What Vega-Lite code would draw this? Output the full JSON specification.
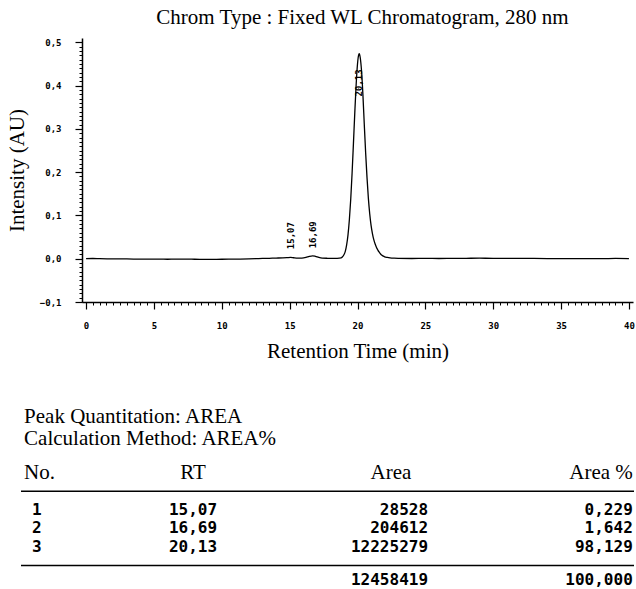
{
  "$schema": "https://vega.github.io/schema/vega-lite/v6.json",
  "background": "white",
  "padding": {"left": 6, "top": 7, "right": 2, "bottom": 0},
  "spacing": 45,
  "config": {"view": {"stroke": null}, "font": "Liberation Serif"},
  "vconcat": [
    {
      "width": 551,
      "height": 264,
      "title": {"text": "Chrom Type : Fixed WL Chromatogram, 280 nm", "font": "Liberation Serif", "fontSize": 21, "fontWeight": "normal", "color": "black", "anchor": "middle", "offset": 10, "dx": 5},
      "layer": [
        {
          "data": {"values": [
            {"t": 0, "v": 0.0}, {"t": 0.5, "v": 0.0005}, {"t": 1, "v": 0.0}, {"t": 2, "v": -0.0005}, {"t": 3, "v": -0.0005},
            {"t": 4, "v": -0.001}, {"t": 5, "v": -0.001}, {"t": 6, "v": -0.0012}, {"t": 7, "v": -0.001}, {"t": 8, "v": -0.0012},
            {"t": 9, "v": -0.0015}, {"t": 10, "v": -0.0012}, {"t": 11, "v": -0.001}, {"t": 12, "v": -0.0005}, {"t": 12.5, "v": 0.0},
            {"t": 13, "v": 0.0008}, {"t": 13.5, "v": 0.001}, {"t": 14, "v": 0.0015}, {"t": 14.5, "v": 0.002}, {"t": 14.8, "v": 0.0025},
            {"t": 15.07, "v": 0.003}, {"t": 15.3, "v": 0.0022}, {"t": 15.6, "v": 0.0015}, {"t": 15.9, "v": 0.0015}, {"t": 16.2, "v": 0.003},
            {"t": 16.45, "v": 0.0055}, {"t": 16.69, "v": 0.0068}, {"t": 16.9, "v": 0.0055}, {"t": 17.15, "v": 0.003}, {"t": 17.4, "v": 0.0015},
            {"t": 17.8, "v": 0.001}, {"t": 18.2, "v": 0.0008}, {"t": 18.5, "v": 0.001}, {"t": 18.8, "v": 0.0022}, {"t": 18.9, "v": 0.0045},
            {"t": 19.0, "v": 0.009}, {"t": 19.1, "v": 0.017}, {"t": 19.2, "v": 0.032}, {"t": 19.3, "v": 0.055}, {"t": 19.4, "v": 0.09},
            {"t": 19.5, "v": 0.137}, {"t": 19.6, "v": 0.197}, {"t": 19.7, "v": 0.266}, {"t": 19.8, "v": 0.337}, {"t": 19.9, "v": 0.402},
            {"t": 20.0, "v": 0.45}, {"t": 20.05, "v": 0.465}, {"t": 20.13, "v": 0.474}, {"t": 20.2, "v": 0.465}, {"t": 20.3, "v": 0.433},
            {"t": 20.4, "v": 0.378}, {"t": 20.5, "v": 0.31}, {"t": 20.6, "v": 0.245}, {"t": 20.7, "v": 0.188}, {"t": 20.8, "v": 0.14},
            {"t": 20.9, "v": 0.104}, {"t": 21.0, "v": 0.077}, {"t": 21.1, "v": 0.058}, {"t": 21.2, "v": 0.044}, {"t": 21.3, "v": 0.034},
            {"t": 21.4, "v": 0.026}, {"t": 21.5, "v": 0.02}, {"t": 21.6, "v": 0.015}, {"t": 21.7, "v": 0.011}, {"t": 21.8, "v": 0.008},
            {"t": 21.9, "v": 0.006}, {"t": 22.0, "v": 0.0045}, {"t": 22.2, "v": 0.003}, {"t": 22.4, "v": 0.002}, {"t": 22.7, "v": 0.0012},
            {"t": 23, "v": 0.0008}, {"t": 24, "v": 0.0005}, {"t": 25, "v": 0.0008}, {"t": 26, "v": 0.0005}, {"t": 27, "v": 0.0008},
            {"t": 28, "v": 0.001}, {"t": 29, "v": 0.0012}, {"t": 30, "v": 0.001}, {"t": 31, "v": 0.0008}, {"t": 32, "v": 0.001},
            {"t": 33, "v": 0.0006}, {"t": 34, "v": 0.0004}, {"t": 35, "v": 0.0002}, {"t": 36, "v": 0.0}, {"t": 37, "v": 0.0003},
            {"t": 38, "v": 0.0}, {"t": 39, "v": 0.0006}, {"t": 40, "v": 0.0003}
          ]},
          "mark": {"type": "line", "color": "black", "strokeWidth": 1.3, "interpolate": "monotone"},
          "encoding": {
            "x": {"field": "t", "type": "quantitative",
              "scale": {"domain": [-0.3, 40.3], "nice": false, "zero": false},
              "axis": {"values": [0, 5, 10, 15, 20, 25, 30, 35, 40], "format": "d", "title": "Retention Time (min)",
                "titleFont": "Liberation Serif", "titleFontSize": 21, "titleFontWeight": "normal", "titleColor": "black", "titlePadding": 10,
                "labelFont": "DejaVu Sans Mono", "labelFontWeight": "bold", "labelFontSize": 9, "labelColor": "black", "labelPadding": 12,
                "tickSize": 7, "tickColor": "black", "tickWidth": 1.2, "domainColor": "black", "domainWidth": 1.5, "grid": false, "labelFlush": false, "orient": "bottom"}},
            "y": {"field": "v", "type": "quantitative",
              "scale": {"domain": [-0.1, 0.51], "nice": false, "zero": false},
              "axis": {"values": [-0.1, 0, 0.1, 0.2, 0.3, 0.4, 0.5], "labelExpr": "replace(format(datum.value, '.1f'), '.', ',')", "title": "Intensity (AU)",
                "titleFont": "Liberation Serif", "titleFontSize": 21, "titleFontWeight": "normal", "titleColor": "black", "titlePadding": 12,
                "labelFont": "DejaVu Sans Mono", "labelFontWeight": "bold", "labelFontSize": 9, "labelColor": "black", "labelPadding": 14,
                "tickSize": 7, "tickColor": "black", "tickWidth": 1.2, "domainColor": "black", "domainWidth": 1.5, "grid": false, "labelFlush": false, "orient": "left"}}
          }
        },
        {
          "data": {"values": [
            {"t": 15.07, "v": 0.022, "label": "15,07"},
            {"t": 16.69, "v": 0.024, "label": "16,69"},
            {"t": 20.13, "v": 0.375, "label": "20,13"}
          ]},
          "mark": {"type": "text", "angle": 270, "align": "left", "baseline": "middle", "font": "DejaVu Sans Mono", "fontWeight": "bold", "fontSize": 9, "color": "black"},
          "encoding": {
            "x": {"field": "t", "type": "quantitative",
              "axis": {"values": [0,0.5,1,1.5,2,2.5,3,3.5,4,4.5,5,5.5,6,6.5,7,7.5,8,8.5,9,9.5,10,10.5,11,11.5,12,12.5,13,13.5,14,14.5,15,15.5,16,16.5,17,17.5,18,18.5,19,19.5,20,20.5,21,21.5,22,22.5,23,23.5,24,24.5,25,25.5,26,26.5,27,27.5,28,28.5,29,29.5,30,30.5,31,31.5,32,32.5,33,33.5,34,34.5,35,35.5,36,36.5,37,37.5,38,38.5,39,39.5,40],
                "labels": false, "domain": false, "title": null, "tickSize": 3, "tickColor": "black", "grid": false, "orient": "bottom"}},
            "y": {"field": "v", "type": "quantitative",
              "axis": {"values": [-0.1,-0.09,-0.08,-0.07,-0.06,-0.05,-0.04,-0.03,-0.02,-0.01,0,0.01,0.02,0.03,0.04,0.05,0.06,0.07,0.08,0.09,0.1,0.11,0.12,0.13,0.14,0.15,0.16,0.17,0.18,0.19,0.2,0.21,0.22,0.23,0.24,0.25,0.26,0.27,0.28,0.29,0.3,0.31,0.32,0.33,0.34,0.35,0.36,0.37,0.38,0.39,0.4,0.41,0.42,0.43,0.44,0.45,0.46,0.47,0.48,0.49,0.5],
                "labels": false, "domain": false, "title": null, "tickSize": 3, "tickColor": "black", "grid": false, "orient": "left"}},
            "text": {"field": "label"}
          }
        }
      ],
      "resolve": {"axis": {"x": "independent", "y": "independent"}}
    },
    {
      "width": 552,
      "height": 167,
      "data": {"values": [
        {"row": "1", "RT": "15,07", "Area": "28528", "AreaPct": "0,229"},
        {"row": "2", "RT": "16,69", "Area": "204612", "AreaPct": "1,642"},
        {"row": "3", "RT": "20,13", "Area": "12225279", "AreaPct": "98,129"},
        {"row": "total", "Area": "12458419", "AreaPct": "100,000"}
      ]},
      "layer": [
        {
          "data": {"values": [
            {"row": "quant", "text": "Peak Quantitation: AREA"},
            {"row": "header", "text": "No."}
          ]},
          "mark": {"type": "text", "align": "left", "baseline": "middle", "font": "Liberation Serif", "fontSize": 21, "color": "black"},
          "encoding": {
            "x": {"datum": 0.005, "type": "quantitative", "scale": {"domain": [0, 1], "range": [-61, 552], "nice": false, "zero": false}, "axis": null},
            "y": {"field": "row", "type": "ordinal", "scale": {"type": "point", "domain": ["quant", "method", "gap", "header", "rule1", "1", "2", "3", "rule2", "total"], "padding": 0}, "axis": null},
            "text": {"field": "text"}
          }
        },
        {
          "data": {"values": [{"row": "method", "text": "Calculation Method: AREA%"}]},
          "mark": {"type": "text", "align": "left", "baseline": "middle", "font": "Liberation Serif", "fontSize": 21, "color": "black", "dy": 3},
          "encoding": {"x": {"datum": 0.005, "type": "quantitative"}, "y": {"field": "row", "type": "ordinal"}, "text": {"field": "text"}}
        },
        {
          "data": {"values": [{"row": "header", "text": "RT"}]},
          "mark": {"type": "text", "align": "center", "baseline": "middle", "font": "Liberation Serif", "fontSize": 21, "color": "black"},
          "encoding": {"x": {"datum": 0.2806, "type": "quantitative"}, "y": {"field": "row", "type": "ordinal"}, "text": {"field": "text"}}
        },
        {
          "data": {"values": [{"row": "header", "text": "Area"}]},
          "mark": {"type": "text", "align": "center", "baseline": "middle", "font": "Liberation Serif", "fontSize": 21, "color": "black"},
          "encoding": {"x": {"datum": 0.6036, "type": "quantitative"}, "y": {"field": "row", "type": "ordinal"}, "text": {"field": "text"}}
        },
        {
          "data": {"values": [{"row": "header", "text": "Area %"}]},
          "mark": {"type": "text", "align": "right", "baseline": "middle", "font": "Liberation Serif", "fontSize": 21, "color": "black"},
          "encoding": {"x": {"datum": 0.998, "type": "quantitative"}, "y": {"field": "row", "type": "ordinal"}, "text": {"field": "text"}}
        },
        {
          "transform": [{"filter": "datum.row != 'total'"}],
          "mark": {"type": "text", "align": "left", "baseline": "middle", "font": "DejaVu Sans Mono", "fontWeight": "bold", "fontSize": 16, "color": "black"},
          "encoding": {"x": {"datum": 0.018, "type": "quantitative"}, "y": {"field": "row", "type": "ordinal"}, "text": {"field": "row"}}
        },
        {
          "transform": [{"filter": "datum.row != 'total'"}],
          "mark": {"type": "text", "align": "center", "baseline": "middle", "font": "DejaVu Sans Mono", "fontWeight": "bold", "fontSize": 16, "color": "black"},
          "encoding": {"x": {"datum": 0.2806, "type": "quantitative"}, "y": {"field": "row", "type": "ordinal"}, "text": {"field": "RT"}}
        },
        {
          "transform": [{"filter": "datum.row != 'total'"}],
          "mark": {"type": "text", "align": "right", "baseline": "middle", "font": "DejaVu Sans Mono", "fontWeight": "bold", "fontSize": 16, "color": "black"},
          "encoding": {"x": {"datum": 0.664, "type": "quantitative"}, "y": {"field": "row", "type": "ordinal"}, "text": {"field": "Area"}}
        },
        {
          "transform": [{"filter": "datum.row != 'total'"}],
          "mark": {"type": "text", "align": "right", "baseline": "middle", "font": "DejaVu Sans Mono", "fontWeight": "bold", "fontSize": 16, "color": "black"},
          "encoding": {"x": {"datum": 0.998, "type": "quantitative"}, "y": {"field": "row", "type": "ordinal"}, "text": {"field": "AreaPct"}}
        },
        {
          "transform": [{"filter": "datum.row == 'total'"}],
          "mark": {"type": "text", "align": "right", "baseline": "middle", "font": "DejaVu Sans Mono", "fontWeight": "bold", "fontSize": 16, "color": "black", "dy": -4},
          "encoding": {"x": {"datum": 0.664, "type": "quantitative"}, "y": {"field": "row", "type": "ordinal"}, "text": {"field": "Area"}}
        },
        {
          "transform": [{"filter": "datum.row == 'total'"}],
          "mark": {"type": "text", "align": "right", "baseline": "middle", "font": "DejaVu Sans Mono", "fontWeight": "bold", "fontSize": 16, "color": "black", "dy": -4},
          "encoding": {"x": {"datum": 0.998, "type": "quantitative"}, "y": {"field": "row", "type": "ordinal"}, "text": {"field": "AreaPct"}}
        },
        {
          "data": {"values": [{"row": "rule1"}, {"row": "rule2"}]},
          "mark": {"type": "rule", "color": "black", "strokeWidth": 1.6},
          "encoding": {"x": {"datum": 0, "type": "quantitative"}, "x2": {"datum": 1}, "y": {"field": "row", "type": "ordinal"}}
        }
      ]
    }
  ]
}
